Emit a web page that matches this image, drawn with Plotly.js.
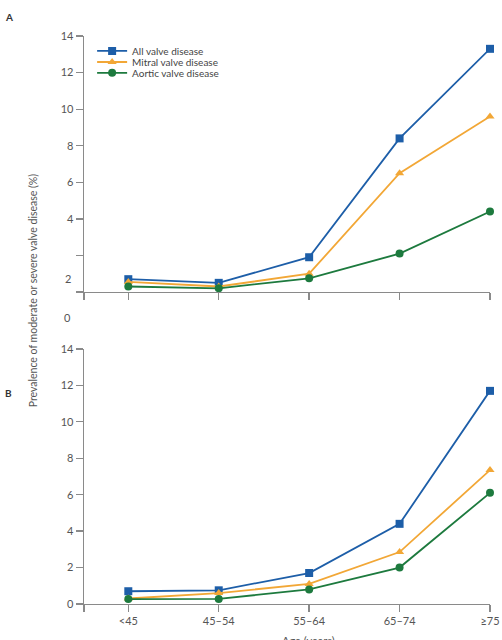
<!DOCTYPE html>
<html>
<head>
<meta charset="utf-8">
<script src="https://cdn.plot.ly/plotly-3.0.1.min.js"></script>
<style>
  html, body { margin: 0; padding: 0; background: #fff; }
  #chart { width: 502px; height: 640px; }
</style>
</head>
<body>
<div id="chart"></div>
<script>
// Age bands shared by both panels
const ageGroups = ['<45', '45–54', '55–64', '65–74', '≥75'];

// Panel A: population-based prevalence (%)
const popAll    = [0.7, 0.5, 1.9, 8.4, 13.3];
const popMitral = [0.55, 0.3, 1.0, 6.5, 9.6];
const popAortic = [0.3, 0.2, 0.75, 2.1, 4.4];

// Panel B: community prevalence (%)
const commAll    = [0.7, 0.75, 1.7, 4.4, 11.7];
const commMitral = [0.3, 0.6, 1.1, 2.85, 7.35];
const commAortic = [0.27, 0.28, 0.8, 2.0, 6.1];

// Axis tick labels
const yTickVals = [0, 2, 4, 6, 8, 10, 12, 14];
const yTickTextA = ['', '', '4', '6', '8', '10', '12', '14'];
const yTickTextB = ['0', '2', '4', '6', '8', '10', '12', '14'];

const seriesNames = ['All valve disease', 'Mitral valve disease', 'Aortic valve disease'];

const BLUE = '#1d5ea8';
const ORANGE = '#f2a736';
const GREEN = '#1d7a3e';
const AXIS = '#8a8a8a';
const TEXT = '#555';
const FONT = 'Lato, "Open Sans", sans-serif';

const styles = [
  { color: BLUE,   symbol: 'square',        size: 8 },
  { color: ORANGE, symbol: 'triangle-up',   size: 8 },
  { color: GREEN,  symbol: 'circle',        size: 8 }
];

const xIdx = ageGroups.map((_, i) => i);
const xStart = -0.49;
const xEnd = ageGroups.length - 1;

function series(values, k, xa, ya, legendId, show) {
  return {
    type: 'scatter', mode: 'lines+markers',
    x: xIdx, y: values, xaxis: xa, yaxis: ya,
    name: seriesNames[k],
    legend: legendId, showlegend: show,
    cliponaxis: false,
    line: { color: styles[k].color, width: 1.8 },
    marker: { color: styles[k].color, symbol: styles[k].symbol, size: styles[k].size },
    hoverinfo: 'skip'
  };
}

const legendIds = ['legend', 'legend2', 'legend3'];
const data = [
  series(popAll, 0, 'x', 'y', legendIds[0], true),
  series(popMitral, 1, 'x', 'y', legendIds[1], true),
  series(popAortic, 2, 'x', 'y', legendIds[2], true),
  series(commAll, 0, 'x2', 'y2', legendIds[0], false),
  series(commMitral, 1, 'x2', 'y2', legendIds[1], false),
  series(commAortic, 2, 'x2', 'y2', legendIds[2], false)
];

function xAxis(anchor, labels) {
  return {
    anchor: anchor, domain: [0, 1],
    range: [xStart, xEnd],
    tickmode: 'array',
    tickvals: [xStart].concat(xIdx),
    ticktext: [''].concat(labels ? ageGroups : ageGroups.map(() => '')),
    showline: true, linecolor: AXIS, linewidth: 1.3,
    ticks: 'outside', ticklen: 7, tickwidth: 1.3, tickcolor: AXIS,
    showgrid: false, zeroline: false,
    tickfont: { family: FONT, size: 11, color: TEXT }
  };
}

function yAxis(anchor, domain, text) {
  return {
    anchor: anchor, domain: domain,
    range: [0, 14],
    tickmode: 'array', tickvals: yTickVals, ticktext: text,
    showline: true, linecolor: AXIS, linewidth: 1.3,
    ticks: 'outside', ticklen: 7, tickwidth: 1.3, tickcolor: AXIS,
    showgrid: false, zeroline: false,
    tickfont: { family: FONT, size: 11, color: TEXT }
  };
}

const legendRowsY = [0.9485, 0.930, 0.912];
const legendBase = {
  x: 0.02, xanchor: 'left', yanchor: 'middle',
  bgcolor: 'rgba(0,0,0,0)', borderwidth: 0,
  font: { family: FONT, size: 10, color: '#444' },
  itemclick: false, itemdoubleclick: false
};

const layout = {
  width: 502, height: 640,
  margin: { l: 84, r: 12, t: 20, b: 20 },
  paper_bgcolor: '#fff', plot_bgcolor: '#fff',
  font: { family: FONT, color: TEXT },
  xaxis: xAxis('y', false),
  yaxis: yAxis('x', [0.5467, 0.9733], yTickTextA),
  xaxis2: xAxis('y2', true),
  yaxis2: yAxis('x2', [0.0267, 0.4517], yTickTextB),
  legend:  Object.assign({}, legendBase, { y: legendRowsY[0] }),
  legend2: Object.assign({}, legendBase, { y: legendRowsY[1] }),
  legend3: Object.assign({}, legendBase, { y: legendRowsY[2] }),
  annotations: [
    { text: '<b>A</b>', xref: 'paper', yref: 'paper', x: -0.2, y: 1.005,
      xanchor: 'left', yanchor: 'middle', showarrow: false,
      font: { family: FONT, size: 10, color: '#333' } },
    { text: '<b>B</b>', xref: 'paper', yref: 'paper', x: -0.2, y: 0.378,
      xanchor: 'left', yanchor: 'middle', showarrow: false,
      font: { family: FONT, size: 10, color: '#333' } },
    // lower tick labels of panel A sit below their ticks
    { text: '2', xref: 'paper', yref: 'paper', x: -0.027, y: 0.57,
      xanchor: 'right', yanchor: 'middle', showarrow: false,
      font: { family: FONT, size: 11, color: TEXT } },
    { text: '0', xref: 'paper', yref: 'paper', x: -0.027, y: 0.505,
      xanchor: 'right', yanchor: 'middle', showarrow: false,
      font: { family: FONT, size: 11, color: TEXT } },
    { text: 'Prevalence of moderate or severe valve disease (%)',
      xref: 'paper', yref: 'paper', x: -0.125, y: 0.55,
      xanchor: 'center', yanchor: 'middle', textangle: -90, showarrow: false,
      font: { family: FONT, size: 10.5, color: TEXT } },
    { text: 'Age (years)', xref: 'paper', yref: 'paper', x: 0.553, y: -0.02,
      xanchor: 'center', yanchor: 'top', showarrow: false,
      font: { family: FONT, size: 11, color: TEXT } }
  ]
};

Plotly.newPlot('chart', data, layout, { staticPlot: true, displayModeBar: false });
</script>
</body>
</html>
